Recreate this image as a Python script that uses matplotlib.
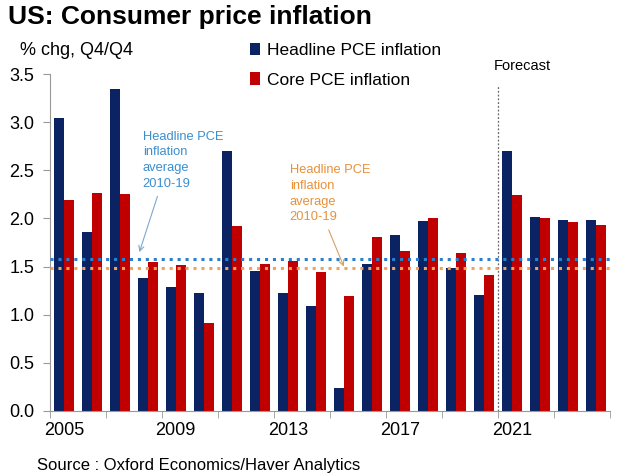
import matplotlib.pyplot as plt
import numpy as np

plt.rcParams['font.family'] = ['Liberation Sans', 'DejaVu Sans']

years = list(range(2005, 2025))
headline = [3.04, 1.86, 3.34, 1.38, 1.29, 1.23, 2.70, 1.45, 1.23, 1.09,
            0.24, 1.53, 1.83, 1.97, 1.49, 1.20, 2.70, 2.01, 1.98, 1.98]
core = [2.19, 2.26, 2.25, 1.55, 1.52, 0.91, 1.92, 1.53, 1.56, 1.44,
        1.19, 1.81, 1.66, 2.00, 1.64, 1.41, 2.24, 2.00, 1.96, 1.93]
headline_avg = 1.58
core_avg = 1.48
label_years = [2005, 2009, 2013, 2017, 2021]

navy = '#0b2363'
red = '#c00000'

fig = plt.figure(figsize=(6.3, 4.75), dpi=100)
ax = fig.add_axes([0.079, 0.135, 0.889, 0.709])

x = np.array(years)
w = 0.36
ax.bar(x - w / 2, headline, width=w, color=navy, label='Headline PCE inflation')
ax.bar(x + w / 2, core, width=w, color=red, label='Core PCE inflation')

ax.axhline(headline_avg, color='#2a7fcf', lw=2.2, ls=(0, (1, 1.6)), zorder=3)
ax.axhline(core_avg, color='#f2a25a', lw=2.2, ls=(0, (1, 1.6)), zorder=3)
ax.axvline(2020.5, ymax=3.38 / 3.5, color='#666666', lw=0.9, ls=(0, (1.5, 1.5)))

ax.set_xlim(2004.5, 2024.5)
ax.set_ylim(0, 3.5)
ax.set_yticks(np.arange(0, 3.51, 0.5))
ax.set_yticklabels([f'{v:.1f}' for v in np.arange(0, 3.51, 0.5)])
ax.set_xticks(label_years)
ax.set_xticklabels([str(y) for y in label_years])
ax.set_xticks(np.arange(2004.5, 2025, 2), minor=True)
ax.tick_params(axis='x', which='major', length=0, labelsize=13, pad=8)
ax.tick_params(axis='x', which='minor', length=5, color='#999999', direction='out')
ax.tick_params(axis='y', length=5, color='#999999', labelsize=13, pad=6)

for s in ['top', 'right']:
    ax.spines[s].set_visible(False)
for s in ['left', 'bottom']:
    ax.spines[s].set_color('#999999')

ax.annotate('Headline PCE\ninflation\naverage\n2010-19', xy=(2007.7, 1.65), xytext=(2007.82, 2.3),
            color='#3a8fd0', fontsize=9.3, ha='left', va='bottom', linespacing=1.4,
            arrowprops=dict(arrowstyle='->', color='#7fa8cc', lw=0.8, shrinkA=3, shrinkB=0,
                            relpos=(0.21, 0)))
ax.annotate('Headline PCE\ninflation\naverage\n2010-19', xy=(2015.0, 1.5), xytext=(2013.07, 1.95),
            color='#e8913a', fontsize=9.3, ha='left', va='bottom', linespacing=1.4,
            arrowprops=dict(arrowstyle='->', color='#d9a060', lw=0.8, shrinkA=3, shrinkB=0,
                            relpos=(0.45, 0)))

ax.legend(loc='upper left', bbox_to_anchor=(0.33, 1.14), frameon=False, fontsize=12.5,
          handlelength=0.55, handleheight=0.7, handletextpad=0.4, labelspacing=0.85)

fig.text(0.013, 0.965, 'US: Consumer price inflation', fontsize=19, fontweight='bold', va='center')
fig.text(0.032, 0.893, '% chg, Q4/Q4', fontsize=13, va='center')
fig.text(0.784, 0.861, 'Forecast', fontsize=10.5, va='center')
fig.text(0.059, 0.021, 'Source : Oxford Economics/Haver Analytics', fontsize=12, va='center')

fig.savefig('out.png', dpi=100)
